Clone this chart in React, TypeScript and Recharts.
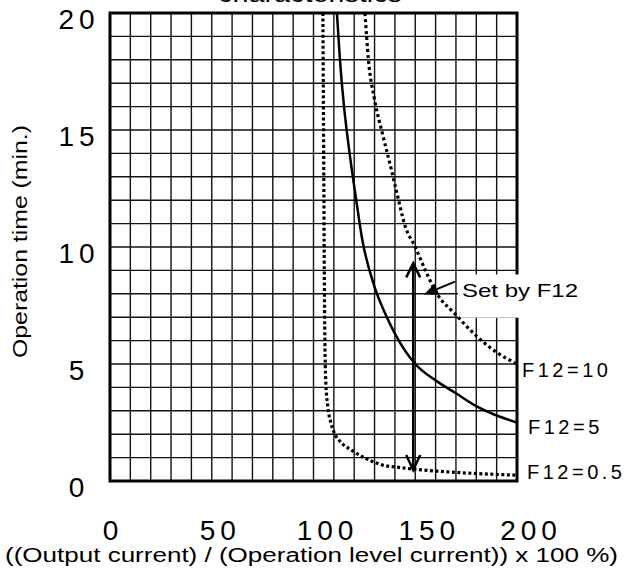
import React from 'react';
import {
  ComposedChart,
  Line,
  XAxis,
  YAxis,
  CartesianGrid,
  ReferenceLine,
  ReferenceArea,
  ReferenceDot,
} from 'recharts';

// ---- data ----
const xGridTicks = [0, 10, 20, 30, 40, 50, 60, 70, 80, 90, 100, 110, 120, 130, 140, 150, 160, 170, 180, 190, 200];
const yGridTicks = [0, 1, 2, 3, 4, 5, 6, 7, 8, 9, 10, 11, 12, 13, 14, 15, 16, 17, 18, 19, 20];
const xTickLabels = [0, 50, 100, 150, 200];
const yTickLabels = [0, 5, 10, 15, 20];

const curveF12_05 = [
  { x: 104.6, t: 20 },
  { x: 105.0, t: 14 },
  { x: 105.3, t: 9 },
  { x: 105.6, t: 6 },
  { x: 106.0, t: 4.3 },
  { x: 107.0, t: 3.2 },
  { x: 108.5, t: 2.5 },
  { x: 110.0, t: 2.1 },
  { x: 113.0, t: 1.7 },
  { x: 119.0, t: 1.3 },
  { x: 126.0, t: 0.95 },
  { x: 134.0, t: 0.68 },
  { x: 142.0, t: 0.58 },
  { x: 150.0, t: 0.5 },
  { x: 164.0, t: 0.4 },
  { x: 180.0, t: 0.32 },
  { x: 200.0, t: 0.25 },
];

const curveF12_5 = [
  { x: 111.5, t: 20 },
  { x: 113.0, t: 18 },
  { x: 115.0, t: 16 },
  { x: 117.0, t: 14.5 },
  { x: 121.0, t: 12 },
  { x: 124.0, t: 10.3 },
  { x: 130.0, t: 8.3 },
  { x: 135.0, t: 7.2 },
  { x: 140.0, t: 6.3 },
  { x: 150.0, t: 5.0 },
  { x: 160.0, t: 4.3 },
  { x: 170.0, t: 3.75 },
  { x: 180.0, t: 3.2 },
  { x: 190.0, t: 2.8 },
  { x: 200.0, t: 2.5 },
];

const curveF12_10 = [
  { x: 125.3, t: 20 },
  { x: 127.0, t: 18 },
  { x: 130.0, t: 16.3 },
  { x: 134.0, t: 14.8 },
  { x: 138.0, t: 13.4 },
  { x: 141.0, t: 12.3 },
  { x: 145.0, t: 10.9 },
  { x: 150.0, t: 10.0 },
  { x: 155.0, t: 9.0 },
  { x: 160.0, t: 8.1 },
  { x: 170.0, t: 7.1 },
  { x: 180.0, t: 6.2 },
  { x: 190.0, t: 5.5 },
  { x: 200.0, t: 5.0 },
];

const seriesLabels = [
  { text: 'F12=10', t: 4.74, dx: 5 },
  { text: 'F12=5', t: 2.31, dx: 11 },
  { text: 'F12=0.5', t: 0.38, dx: 10 },
];

const arrowX = 149;
const arrowBottom = 0.47;
const arrowTop = 9.3;
const pointerTail = { x: 169.5, t: 8.52 };
const pointerTip = { x: 154.3, t: 7.97 };
const noteBox = { x1: 171, x2: 236, t1: 6.98, t2: 8.82 };
const noteText = 'Set by F12';

const titleText = 'characteristics';
const xLabelText = '((Output current) / (Operation level current)) x 100  %)';
const yLabelText = 'Operation time (min.)';

const FONT = '"Liberation Sans", Arial, sans-serif';

const XTick = (props: any) => {
  const { x, y, payload } = props;
  if (!xTickLabels.includes(payload.value)) return <g />;
  const s = String(payload.value);
  return (
    <text
      x={x + (s.length - 1) * 5.5 + 3}
      y={y + 59}
      textAnchor="middle"
      fontSize={28}
      letterSpacing={5}
      fontFamily={FONT}
      fill="#000"
    >
      {s}
    </text>
  );
};

const YTick = (props: any) => {
  const { x, y, payload } = props;
  if (!yTickLabels.includes(payload.value)) return <g />;
  const s = String(payload.value);
  return (
    <text
      x={x - 31}
      y={y + 15.5}
      textAnchor="middle"
      fontSize={28}
      letterSpacing={5}
      fontFamily={FONT}
      fill="#000"
    >
      {s}
    </text>
  );
};

const DoubleArrow = (props: any) => {
  const { x1, y1, x2, y2 } = props;
  const top = Math.min(y1, y2);
  const bot = Math.max(y1, y2);
  return (
    <g stroke="#000" strokeWidth={2.5} fill="none">
      <line x1={x1} y1={bot} x2={x2} y2={top} />
      <polyline points={`${x2 - 7},${top + 14} ${x2},${top} ${x2 + 7},${top + 14}`} />
      <polyline points={`${x1 - 7},${bot - 15} ${x1},${bot} ${x1 + 7},${bot - 15}`} />
    </g>
  );
};

const Pointer = (props: any) => {
  const { x1, y1, x2, y2 } = props;
  const dx = x2 - x1;
  const dy = y2 - y1;
  const len = Math.sqrt(dx * dx + dy * dy) || 1;
  const ux = dx / len;
  const uy = dy / len;
  const bx = x2 - ux * 14;
  const by = y2 - uy * 14;
  const nx = -uy;
  const ny = ux;
  return (
    <g>
      <line x1={x1} y1={y1} x2={bx} y2={by} stroke="#000" strokeWidth={2} />
      <polygon
        points={`${x2},${y2} ${bx + nx * 6},${by + ny * 6} ${bx - nx * 6},${by - ny * 6}`}
        fill="#000"
      />
    </g>
  );
};

export default function App() {
  return (
    <div style={{ position: 'absolute', left: 0, top: 0, background: '#fff' }}>
      <ComposedChart
        width={624}
        height={575}
        margin={{ top: 13, right: 107, bottom: 64, left: 50 }}
      >
        <CartesianGrid stroke="#111" strokeWidth={1.4} />
        <XAxis
          type="number"
          dataKey="x"
          domain={[0, 200]}
          ticks={xGridTicks}
          interval={0}
          axisLine={false}
          tickLine={false}
          tickSize={0}
          tickMargin={0}
          tick={<XTick />}
          allowDataOverflow
        />
        <YAxis
          type="number"
          dataKey="t"
          domain={[0, 20]}
          ticks={yGridTicks}
          interval={0}
          width={60}
          axisLine={false}
          tickLine={false}
          tickSize={0}
          tickMargin={0}
          tick={<YTick />}
          allowDataOverflow
        />
        <ReferenceArea
          x1={0}
          x2={200}
          y1={0}
          y2={20}
          fill="none"
          stroke="#000"
          strokeWidth={3}
          ifOverflow="visible"
        />
        <ReferenceArea
          x1={noteBox.x1}
          x2={noteBox.x2}
          y1={noteBox.t1}
          y2={noteBox.t2}
          fill="#fff"
          fillOpacity={1}
          stroke="none"
          ifOverflow="visible"
        />
        <Line
          data={curveF12_05}
          dataKey="t"
          type="monotone"
          stroke="#000"
          strokeWidth={3.2}
          strokeDasharray="3 2.5"
          dot={false}
          isAnimationActive={false}
        />
        <Line
          data={curveF12_5}
          dataKey="t"
          type="monotone"
          stroke="#000"
          strokeWidth={2.5}
          dot={false}
          isAnimationActive={false}
        />
        <Line
          data={curveF12_10}
          dataKey="t"
          type="monotone"
          stroke="#000"
          strokeWidth={3.2}
          strokeDasharray="3 3"
          dot={false}
          isAnimationActive={false}
        />
        <ReferenceLine
          segment={[
            { x: arrowX, y: arrowBottom },
            { x: arrowX, y: arrowTop },
          ]}
          shape={(p: any) => <DoubleArrow {...p} />}
        />
        <ReferenceLine
          segment={[
            { x: pointerTail.x, y: pointerTail.t },
            { x: pointerTip.x, y: pointerTip.t },
          ]}
          shape={(p: any) => <Pointer {...p} />}
        />
        <ReferenceDot
          x={noteBox.x1}
          y={8}
          r={0}
          shape={(p: any) => (
            <text x={p.cx + 4} y={p.cy + 3} fontSize={19} fontFamily={FONT} fill="#000" textLength={116} lengthAdjust="spacingAndGlyphs">
              {noteText}
            </text>
          )}
        />
        {seriesLabels.map((s) => (
          <ReferenceDot
            key={s.text}
            x={200}
            y={s.t}
            r={0}
            shape={(p: any) => (
              <text
                x={p.cx + s.dx}
                y={p.cy + 7}
                fontSize={20}
                letterSpacing={3.5}
                fontFamily={FONT}
                fill="#000"
              >
                {s.text}
              </text>
            )}
          />
        ))}
        <ReferenceDot
          x={100}
          y={20}
          r={0}
          shape={(p: any) => (
            <text x={p.cx - 3.5} y={p.cy - 11} textAnchor="middle" fontSize={23} fontFamily={FONT} fill="#000" textLength={184} lengthAdjust="spacingAndGlyphs">
              {titleText}
            </text>
          )}
        />
        <ReferenceDot
          x={100}
          y={0}
          r={0}
          shape={(p: any) => (
            <text x={p.cx - 2} y={p.cy + 81} textAnchor="middle" fontSize={20} fontFamily={FONT} fill="#000" textLength={613} lengthAdjust="spacingAndGlyphs">
              {xLabelText}
            </text>
          )}
        />
        <ReferenceDot
          x={0}
          y={10}
          r={0}
          shape={(p: any) => (
            <text
              x={p.cx - 83}
              y={p.cy - 5.5}
              textAnchor="middle"
              fontSize={21}
              fontFamily={FONT}
              fill="#000"
              textLength={233}
              lengthAdjust="spacingAndGlyphs"
              transform={`rotate(-90, ${p.cx - 83}, ${p.cy - 5.5})`}
            >
              {yLabelText}
            </text>
          )}
        />
      </ComposedChart>
    </div>
  );
}
